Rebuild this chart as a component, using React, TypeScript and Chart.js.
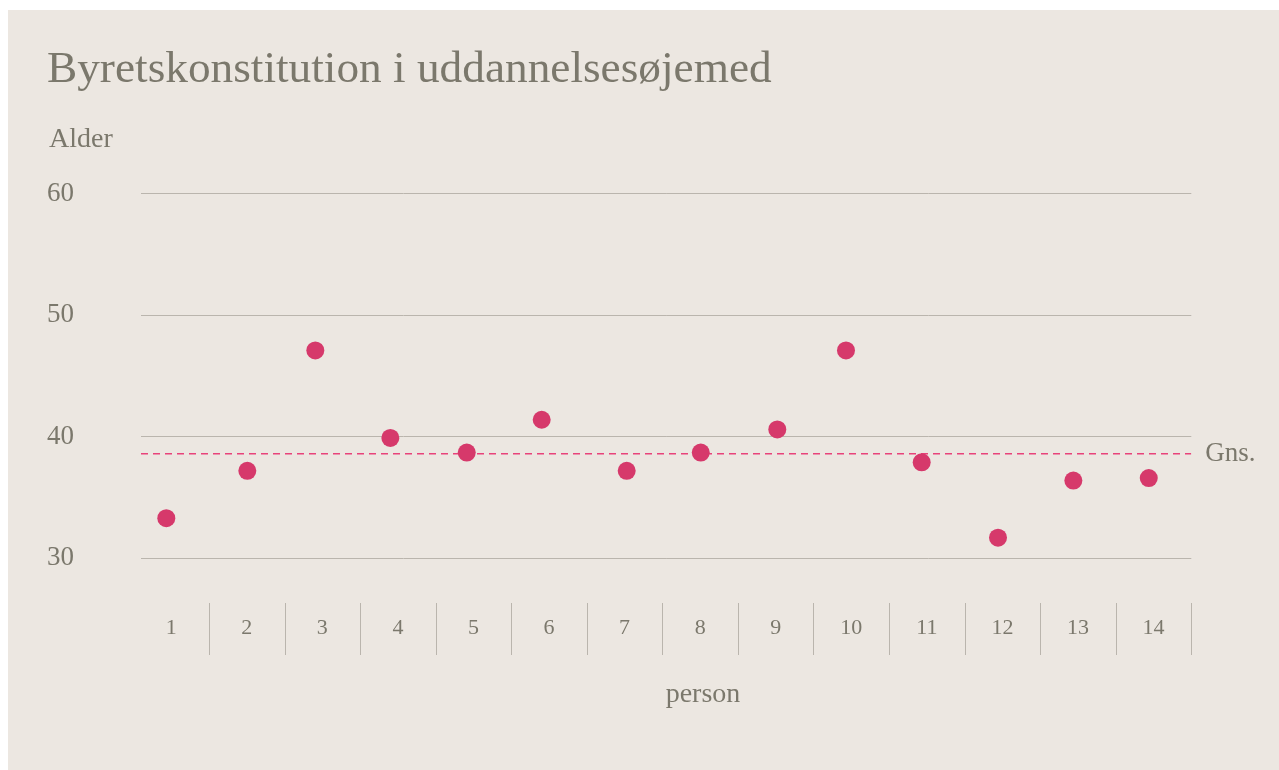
import React, { useEffect, useRef } from "react";
import { Chart, registerables } from "chart.js";

Chart.register(...registerables);

const TITLE = "Byretskonstitution i uddannelsesøjemed";
const Y_TITLE = "Alder";
const X_TITLE = "person";
const AVG_LABEL = "Gns.";

const persons = ["1", "2", "3", "4", "5", "6", "7", "8", "9", "10", "11", "12", "13", "14"];
const personX = [0.935, 2.007, 2.907, 3.9, 4.911, 5.903, 7.028, 8.008, 9.021, 9.93, 10.932, 11.942, 12.939, 13.937];
const ages = [33.3, 37.2, 47.1, 39.9, 38.7, 41.4, 37.2, 38.7, 40.6, 47.1, 37.9, 31.7, 36.4, 36.6];
const average = 38.6;
const yTicks = [30, 40, 50, 60];

const BG = "#ECE7E1";
const TEXT = "#7B786C";
const GRID = "#BAB5AD";
const DOT = "#D6396B";
const DASH = "#E8437A";
const FONT = "'Liberation Serif', 'Times New Roman', serif";

export default function App() {
  const ref = useRef<HTMLCanvasElement>(null);

  useEffect(() => {
    document.documentElement.style.overflow = "hidden";
    const canvas = ref.current;
    if (!canvas) return;

    const decor = {
      id: "decor",
      beforeDatasetsDraw(chart: any) {
        const { ctx } = chart;
        const xs = chart.scales.x;
        ctx.save();
        ctx.strokeStyle = GRID;
        ctx.lineWidth = 1;
        for (let i = 1; i <= persons.length; i++) {
          const px = Math.round(xs.getPixelForValue(i + 0.5)) + 0.5;
          ctx.beginPath();
          ctx.moveTo(px, 593);
          ctx.lineTo(px, 645);
          ctx.stroke();
        }
        ctx.restore();
      },
      afterDraw(chart: any) {
        const { ctx, chartArea } = chart;
        const ys = chart.scales.y;
        ctx.save();
        ctx.fillStyle = TEXT;
        ctx.textAlign = "left";
        ctx.textBaseline = "alphabetic";
        ctx.font = `45.3px ${FONT}`;
        ctx.fillText(TITLE, 39, 72);
        ctx.font = `28px ${FONT}`;
        ctx.fillText(Y_TITLE, 41, 136.5);
        ctx.font = `27px ${FONT}`;
        ctx.fillText(AVG_LABEL, chartArea.right + 14, ys.getPixelForValue(average) + 7.5);
        ctx.font = `28px ${FONT}`;
        ctx.textAlign = "center";
        ctx.fillText(X_TITLE, 695, 691.5);
        ctx.restore();
      },
    };

    const chart = new Chart(canvas, {
      type: "scatter",
      data: {
        datasets: [
          {
            label: "Alder",
            data: ages.map((a, i) => ({ x: personX[i], y: a })),
            backgroundColor: DOT,
            borderColor: DOT,
            pointRadius: 9,
            pointHoverRadius: 9,
            borderWidth: 0,
          },
          {
            type: "line",
            label: "Gns.",
            data: [
              { x: 0.6, y: average },
              { x: 14.5, y: average },
            ],
            borderColor: DASH,
            borderWidth: 1.5,
            borderDash: [7, 5],
            pointRadius: 0,
            showLine: true,
            fill: false,
          } as any,
        ],
      },
      options: {
        responsive: false,
        animation: false,
        events: [],
        layout: { padding: { left: 39, right: 87.7, top: 183.7, bottom: 0 } },
        plugins: {
          legend: { display: false },
          title: { display: false },
          tooltip: { enabled: false },
        },
        scales: {
          x: {
            type: "linear",
            min: 0.6,
            max: 14.5,
            afterFit: (s: any) => {
              s.height = 211.7;
            },
            afterBuildTicks: (s: any) => {
              s.ticks = persons.map((_, i) => ({ value: i + 1 }));
            },
            grid: { display: false, drawTicks: false },
            border: { display: false },
            ticks: {
              autoSkip: false,
              maxRotation: 0,
              padding: 57,
              color: TEXT,
              font: { family: FONT, size: 22 },
              callback: (v: any) => persons[Math.round(Number(v)) - 1] ?? "",
            },
          },
          y: {
            min: 30,
            max: 60,
            afterFit: (s: any) => {
              s.width = 94;
            },
            afterBuildTicks: (s: any) => {
              s.ticks = yTicks.map((v) => ({ value: v }));
            },
            grid: { color: GRID, lineWidth: 1, drawTicks: false },
            border: { display: false },
            ticks: {
              crossAlign: "far",
              padding: 0,
              color: TEXT,
              font: { family: FONT, size: 27 },
            },
          },
        },
      },
      plugins: [decor],
    });

    return () => chart.destroy();
  }, []);

  return (
    <div
      style={{
        position: "fixed",
        left: 8,
        top: 10,
        right: 0,
        bottom: 0,
        background: BG,
        overflow: "hidden",
      }}
    >
      <canvas ref={ref} width={1271} height={760} style={{ display: "block" }} />
    </div>
  );
}
